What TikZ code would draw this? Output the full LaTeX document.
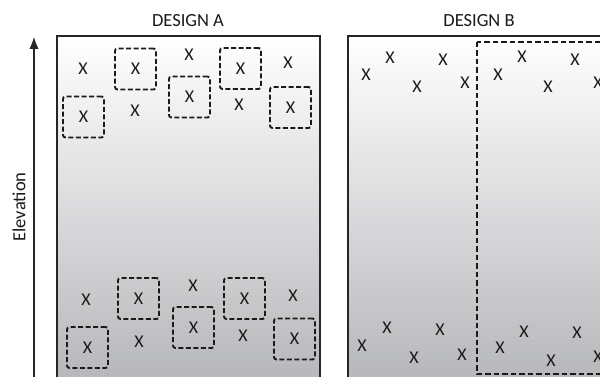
\documentclass[tikz,border=0pt]{standalone}
\usepackage{fontspec}
\setmainfont{Carlito}
\usetikzlibrary{arrows.meta}
\definecolor{gB}{HTML}{B3B4B7}
\definecolor{ink}{HTML}{1A1A1A}
\definecolor{frame}{HTML}{262626}
\tikzset{
  mk/.style={inner sep=0pt, text=ink, font=\fontsize{18}{18}\selectfont},
  bx/.style={mk, draw=ink, dash pattern=on 5pt off 2.5pt, line width=1.9pt,
             rounded corners=2.5pt, minimum width=41pt, minimum height=41pt},
  ttl/.style={inner sep=0pt, text=ink, font=\fontsize{18.5}{18.5}\selectfont},
  panel/.style={draw=frame, line width=2.6pt},
  bigdash/.style={draw=ink, dash pattern=on 5.5pt off 3pt, line width=2.1pt},
}
\begin{document}
\begin{tikzpicture}[x=1pt,y=-1pt]
\useasboundingbox (0,0) rectangle (600,377);
\clip (0,0) rectangle (600,377);
\fill[white] (0,0) rectangle (600,377);
% panels
\shade[top color=white, bottom color=gB] (57,36) rectangle (320,395);
\draw[panel] (57,36) rectangle (320,395);
\shade[top color=white, bottom color=gB] (348,36) rectangle (640,395);
\draw[panel] (348,36) rectangle (640,395);
% titles
\node[ttl] (ta) at (188,21) {DESIGN A};
\node[ttl] (tb) at (479,21) {DESIGN B};
% elevation axis
\coordinate (abot) at (34,380);
\coordinate (atop) at (34,36);
\draw[line width=2.6pt, draw=frame, -{Latex[length=13pt,width=9.5pt]}] (abot) -- (atop);
\node[ttl, rotate=90] (elev) at (19,207) {Elevation};
% Design A top
\node[mk] (a1) at (83,69) {X};
\node[mk] (a2) at (189,55) {X};
\node[mk] (a3) at (288,63) {X};
\node[mk] (a4) at (135,111) {X};
\node[mk] (a5) at (239,105) {X};
\node[bx] (ab1) at (135.5,69) {X};
\node[bx] (ab2) at (189.5,97) {X};
\node[bx] (ab3) at (240.5,68.5) {X};
\node[bx] (ab4) at (290.5,107.5) {X};
\node[bx] (ab5) at (83.5,117) {X};
% Design A bottom
\node[mk] (c1) at (86,300) {X};
\node[mk] (c2) at (193,286) {X};
\node[mk] (c3) at (293,296) {X};
\node[mk] (c4) at (139,342) {X};
\node[mk] (c5) at (243,336) {X};
\node[bx] (cb1) at (138.5,298.5) {X};
\node[bx] (cb2) at (193.5,327.5) {X};
\node[bx] (cb3) at (244.5,298.5) {X};
\node[bx] (cb4) at (294.5,339) {X};
\node[bx] (cb5) at (87.5,347.5) {X};
% Design B big dashed region
\coordinate (d1) at (477,42);
\coordinate (d2) at (640,374);
\draw[bigdash] (d1) rectangle (d2);
% Design B top
\node[mk] (b1) at (366,75) {X};
\node[mk] (b2) at (390,58) {X};
\node[mk] (b3) at (417,87) {X};
\node[mk] (b4) at (443,60) {X};
\node[mk] (b5) at (465,83) {X};
\node[mk] (b6) at (498,75) {X};
\node[mk] (b7) at (522,57) {X};
\node[mk] (b8) at (548,87) {X};
\node[mk] (b9) at (575,60) {X};
\node[mk] (b10) at (598,83) {X};
% Design B bottom
\node[mk] (e1) at (362,346) {X};
\node[mk] (e2) at (387,328) {X};
\node[mk] (e3) at (414,358) {X};
\node[mk] (e4) at (440,330) {X};
\node[mk] (e5) at (462,355) {X};
\node[mk] (e6) at (500,348) {X};
\node[mk] (e7) at (524,332) {X};
\node[mk] (e8) at (551,361) {X};
\node[mk] (e9) at (577,333) {X};
\node[mk] (e10) at (598,357) {X};
\end{tikzpicture}
\end{document}
